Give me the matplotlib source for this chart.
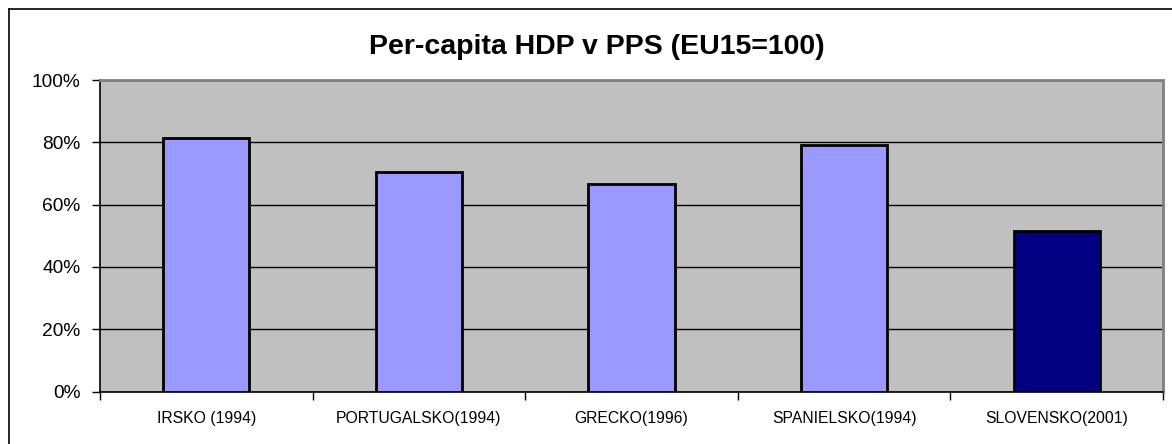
import matplotlib
matplotlib.use("Agg")
import matplotlib.pyplot as plt
from matplotlib.lines import Line2D
from matplotlib.ticker import FuncFormatter, MultipleLocator

categories = ["IRSKO (1994)", "PORTUGALSKO(1994)", "GRECKO(1996)", "SPANIELSKO(1994)", "SLOVENSKO(2001)"]
values = [81.3, 70.4, 66.5, 79.1, 51.5]
colors = ["#9999ff", "#9999ff", "#9999ff", "#9999ff", "#000080"]
title = "Per-capita HDP v PPS (EU15=100)"

plt.rcParams['font.family'] = ['Liberation Sans', 'DejaVu Sans']

W, H = 1172, 444
fig = plt.figure(figsize=(W / 100, H / 100), dpi=100)
fig.patch.set_facecolor("white")

# outer chart frame (only left and top edges visible in the crop)
fig.lines.append(Line2D([8.5 / W, 8.5 / W], [0, 1 - 9 / H], transform=fig.transFigure,
                        color="black", lw=1.2))
fig.lines.append(Line2D([8.5 / W, 1], [1 - 9 / H, 1 - 9 / H], transform=fig.transFigure,
                        color="black", lw=1.2))

x0, x1, y0, y1 = 100, 1163, 80, 391.5
ax = fig.add_axes([x0 / W, 1 - y1 / H, (x1 - x0) / W, (y1 - y0) / H])
ax.set_facecolor("#c0c0c0")

xs = list(range(len(categories)))
ax.bar(xs, values, width=0.405, color=colors, edgecolor="black", linewidth=2, zorder=3)

ax.set_xlim(-0.5, len(categories) - 0.5)
ax.set_ylim(0, 100)
ax.yaxis.set_major_locator(MultipleLocator(20))
ax.yaxis.set_major_formatter(FuncFormatter(lambda v, p: f"{int(v)}%"))
ax.grid(axis="y", color="black", lw=1, zorder=1)
ax.set_axisbelow(True)

ax.set_xticks(xs)
ax.set_xticklabels(categories, fontsize=11.3)
ax.tick_params(axis="x", length=0, pad=14)
ax.set_xticks([i + 0.5 for i in range(-1, len(categories))], minor=True)
ax.tick_params(axis="x", which="minor", length=6, width=1, direction="out", color="black")
ax.tick_params(axis="y", length=6, width=1, direction="out", labelsize=13.8, pad=8)

for s in ["left", "bottom"]:
    ax.spines[s].set_color("black")
    ax.spines[s].set_linewidth(1.2)
for s in ["top", "right"]:
    ax.spines[s].set_color("#808080")
    ax.spines[s].set_linewidth(2)

fig.text((363 + 830) / 2 / W, 1 - 47 / H, title, ha="center", va="center",
         fontsize=20.5, fontweight="bold")

fig.savefig("out.png", dpi=100)
